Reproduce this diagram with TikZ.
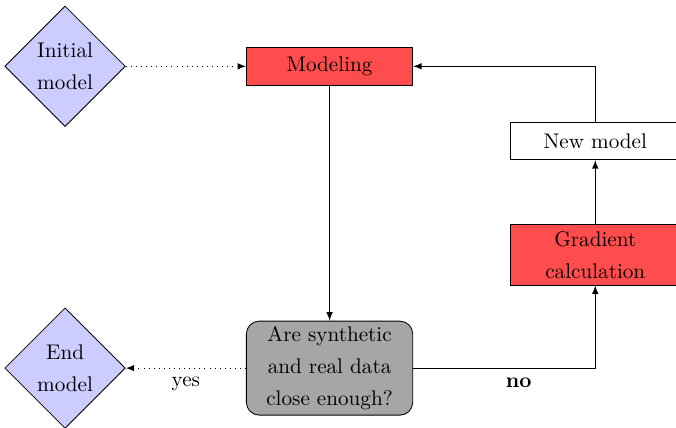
\documentclass[tikz,border=0pt]{standalone}
\usetikzlibrary{positioning}
\usetikzlibrary{shapes.geometric}
\RequirePackage{xcolor}
\definecolor{FlowRed}{HTML}{FF4C4C}
\definecolor{FlowBlue}{HTML}{CCCCFF}
\definecolor{FlowGrey}{HTML}{A6A6A6}

\begin{document}
\begin{tikzpicture}[every node/.style={font=\linespread{1.25}\selectfont, align=center},
  endpoint/.style={diamond, draw, fill=FlowBlue, minimum size=2cm, inner sep=0pt},
  process/.style={rectangle, draw, fill=FlowRed, minimum width=2.76cm, minimum height=0.63cm, inner sep=2pt},
  newbox/.style={rectangle, draw, fill=white, minimum width=2.8cm, minimum height=0.62cm},
  decision/.style={rectangle, rounded corners=6pt, draw, fill=FlowGrey, minimum width=2.76cm, minimum height=1.56cm, inner sep=2pt},
  on grid]

\useasboundingbox (0,0) rectangle (11.22,-7.10);
\clip (0,0) rectangle (11.22,-7.10);

% Nodes
\node[endpoint] (init) at (1.08,-1.10) {Initial\\model};
\node[process, right=4.39cm of init] (model) {Modeling};
\node[decision, below=5.01cm of model] (quest) {Are synthetic\\and real data\\close enough?};
\node[endpoint, left=4.39cm of quest] (endm) {End\\model};
\node[process, minimum width=2.8cm, minimum height=1cm] (grad) at (9.88,-4.23) {Gradient\\calculation};
\node[newbox, above=1.89cm of grad] (newm) {New model};

% Connectors
\draw[dotted,-latex] (init) -- (model);
\draw[-latex] (model) -- (quest);
\draw[dotted,-latex] (quest) -- node[below=0.03cm] {yes} (endm);
\draw[-latex] (quest) -| node[pos=0.29, below=0.03cm] {\textbf{no}} (grad);
\draw[-latex] (grad) -- (newm);
\draw[-latex] (newm) |- (model);

\end{tikzpicture}
\end{document}
